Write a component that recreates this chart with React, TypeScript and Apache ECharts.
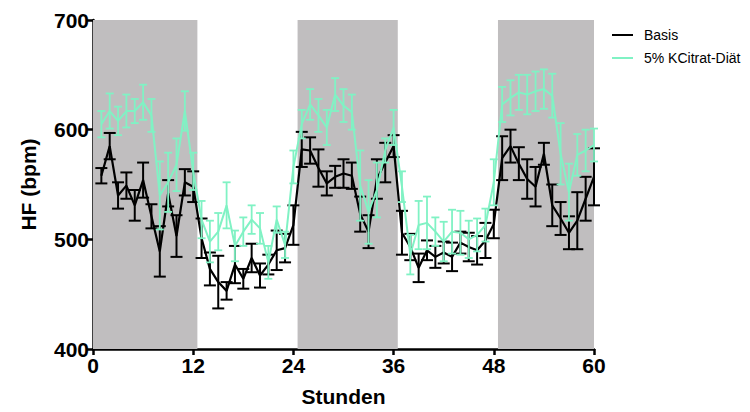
import React, { useEffect, useRef } from 'react';
import * as echarts from 'echarts';

const hours = [1, 2, 3, 4, 5, 6, 7, 8, 9, 10, 11, 12, 13, 14, 15, 16, 17, 18, 19, 20, 21, 22, 23, 24, 25, 26, 27, 28, 29, 30, 31, 32, 33, 34, 35, 36, 37, 38, 39, 40, 41, 42, 43, 44, 45, 46, 47, 48, 49, 50, 51, 52, 53, 54, 55, 56, 57, 58, 59, 60];

const basisMean = [558, 585, 540, 549, 531, 554, 521, 489, 542, 503, 552, 548, 501, 473, 461, 453, 477, 464, 483, 467, 477, 490, 492, 513, 582, 581, 565, 551, 557, 560, 558, 523, 507, 555, 570, 585, 506, 493, 474, 490, 484, 488, 484, 497, 493, 490, 499, 514, 574, 585, 569, 555, 548, 578, 531, 519, 506, 517, 537, 557];
const basisErr = [7, 12, 12, 12, 14, 16, 11, 23, 12, 19, 12, 14, 18, 15, 24, 8, 17, 9, 13, 11, 9, 18, 13, 18, 16, 12, 17, 11, 10, 13, 12, 16, 15, 18, 18, 10, 20, 12, 13, 9, 10, 10, 13, 10, 13, 13, 16, 13, 20, 15, 15, 18, 18, 10, 19, 15, 15, 26, 20, 26];

const citratMean = [605, 617, 608, 617, 617, 625, 613, 540, 552, 568, 617, 562, 518, 498, 507, 531, 494, 507, 518, 510, 479, 518, 495, 566, 605, 623, 613, 602, 632, 622, 616, 549, 525, 545, 581, 602, 548, 486, 513, 515, 507, 498, 507, 506, 500, 504, 513, 552, 623, 629, 634, 632, 635, 637, 631, 578, 543, 577, 581, 586];
const citratErr = [12, 16, 13, 15, 11, 16, 15, 31, 27, 24, 18, 17, 17, 19, 17, 21, 14, 13, 13, 14, 15, 12, 12, 15, 13, 14, 15, 16, 15, 15, 16, 32, 29, 25, 11, 16, 14, 18, 22, 24, 13, 18, 20, 20, 17, 15, 15, 21, 16, 16, 16, 18, 18, 18, 20, 28, 26, 19, 19, 15];

const darkPeriods = [[0, 12.5], [24.5, 36.5], [48.5, 60.5]];
const xTicks = [0, 12, 24, 36, 48, 60];

const seriesNames = ['Basis', '5% KCitrat-Diät'];
const BLACK = '#000000';
const GREEN = '#80f2c4';
const GRAY = '#c0bebf';
const FONT = "'Liberation Sans', Arial, sans-serif";

export default function App() {
  const ref = useRef<HTMLDivElement>(null);
  useEffect(() => {
    const chart = echarts.init(ref.current!, null, { renderer: 'svg' });

    const errSeries = (name: string, means: number[], errs: number[], color: string, cap: number, width: number, z: number) => ({
      type: 'custom',
      name,
      z,
      data: hours.map((h, i) => [h, means[i], errs[i]]),
      encode: { x: 0, y: 1 },
      renderItem: (params: any, api: any) => {
        const x = api.value(0);
        const v = api.value(1);
        const e = api.value(2);
        const p1 = api.coord([x, v + e]);
        const p2 = api.coord([x, v - e]);
        const style = { stroke: color, lineWidth: width };
        return {
          type: 'group',
          children: [
            { type: 'line', shape: { x1: p1[0], y1: p1[1], x2: p2[0], y2: p2[1] }, style },
            { type: 'line', shape: { x1: p1[0] - cap / 2, y1: p1[1], x2: p1[0] + cap / 2, y2: p1[1] }, style },
            { type: 'line', shape: { x1: p2[0] - cap / 2, y1: p2[1], x2: p2[0] + cap / 2, y2: p2[1] }, style },
          ],
        };
      },
    });

    chart.setOption({
      animation: false,
      backgroundColor: '#ffffff',
      grid: { left: 93, right: 156, top: 20, bottom: 60, containLabel: false },
      legend: {
        data: seriesNames.map((n) => ({ name: n, icon: 'rect' })),
        orient: 'vertical',
        left: 607,
        top: 23,
        itemWidth: 21,
        itemHeight: 2,
        itemGap: 9,
        textStyle: { fontSize: 14, color: '#000', fontFamily: FONT, padding: [0, 0, 0, 6] },
      },
      xAxis: {
        type: 'value',
        min: 0,
        max: 60,
        interval: 12,
        name: 'Stunden',
        nameLocation: 'middle',
        nameGap: 37,
        nameTextStyle: { fontSize: 21, fontWeight: 'bold', color: '#000', fontFamily: FONT },
        axisLine: { show: true, lineStyle: { color: '#000', width: 2.5 } },
        axisTick: { show: true, inside: false, length: 6, lineStyle: { color: '#000', width: 2.5 } },
        axisLabel: {
          margin: 6,
          fontSize: 21,
          fontWeight: 'bold',
          color: '#000',
          fontFamily: FONT,
          customValues: xTicks,
        },
        splitLine: { show: false },
      },
      yAxis: {
        type: 'value',
        min: 400,
        max: 700,
        interval: 100,
        name: 'HF (bpm)',
        nameLocation: 'middle',
        nameGap: 54,
        nameRotate: 90,
        nameTextStyle: { fontSize: 21, fontWeight: 'bold', color: '#000', fontFamily: FONT },
        axisLine: { show: true, lineStyle: { color: '#000', width: 2.5 } },
        axisTick: { show: true, inside: false, length: 6, lineStyle: { color: '#000', width: 2.5 } },
        axisLabel: { margin: 4, fontSize: 21, fontWeight: 'bold', color: '#000', fontFamily: FONT },
        splitLine: { show: false },
      },
      series: [
        {
          type: 'line',
          name: 'shade',
          data: [],
          z: 0,
          clip: false,
          silent: true,
          markArea: {
            silent: true,
            itemStyle: { color: GRAY },
            data: darkPeriods.map(([a, b]) => [{ xAxis: a }, { xAxis: b }]),
          },
        },
        errSeries('Basis SEM', basisMean, basisErr, BLACK, 12, 2, 3),
        {
          type: 'line',
          name: seriesNames[0],
          data: hours.map((h, i) => [h, basisMean[i]]),
          symbol: 'none',
          showSymbol: false,
          lineStyle: { color: BLACK, width: 2.2 },
          itemStyle: { color: BLACK },
          z: 3,
        },
        errSeries('Citrat SEM', citratMean, citratErr, GREEN, 8, 1.8, 4),
        {
          type: 'line',
          name: seriesNames[1],
          data: hours.map((h, i) => [h, citratMean[i]]),
          symbol: 'none',
          showSymbol: false,
          lineStyle: { color: GREEN, width: 2 },
          itemStyle: { color: GREEN },
          z: 4,
        },
      ],
    });
    return () => chart.dispose();
  }, []);
  return <div ref={ref} style={{ position: 'fixed', left: 0, top: 0, width: 750, height: 412 }} />;
}
